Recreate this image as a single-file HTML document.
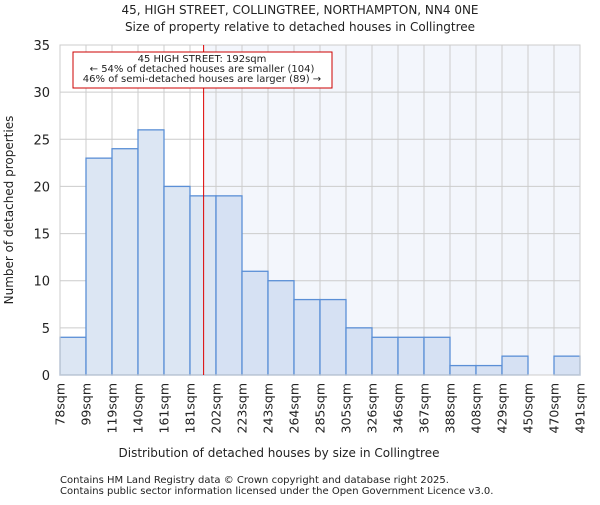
<!DOCTYPE html>
<html><head><meta charset="utf-8"><style>body{margin:0;background:#fff}svg text{font-family:"DejaVu Sans","Liberation Sans",sans-serif;fill:#222}</style></head>
<body>
<svg id="c" width="600" height="500" xmlns="http://www.w3.org/2000/svg">
<text x="300" y="14" text-anchor="middle" font-size="12">45, HIGH STREET, COLLINGTREE, NORTHAMPTON, NN4 0NE</text>
<text x="300" y="31" text-anchor="middle" font-size="12">Size of property relative to detached houses in Collingtree</text>
<g id="plot"></g>
<text x="279" y="457" text-anchor="middle" font-size="12">Distribution of detached houses by size in Collingtree</text>
<text transform="translate(13,210) rotate(-90)" text-anchor="middle" font-size="12">Number of detached properties</text>
<text x="60" y="483" font-size="10">Contains HM Land Registry data © Crown copyright and database right 2025.</text>
<text x="60" y="494" font-size="10">Contains public sector information licensed under the Open Government Licence v3.0.</text>
</svg>
<script>
const labels=["78sqm","99sqm","119sqm","140sqm","161sqm","181sqm","202sqm","223sqm","243sqm","264sqm","285sqm","305sqm","326sqm","346sqm","367sqm","388sqm","408sqm","429sqm","450sqm","470sqm","491sqm"];
const edges=[78,99,119,140,161,181,202,223,243,264,285,305,326,346,367,388,408,429,450,470,491];
const counts=[4,23,24,26,20,19,19,11,10,8,8,5,4,4,4,1,1,2,0,2];
const yTicks=[0,5,10,15,20,25,30,35];
const marker=192;
const L=60,R=580,T=45,B=375,yMax=35;
const bw=(R-L)/counts.length;
const y=v=>B-(v/yMax)*(B-T);
const xi=i=>L+i*bw;
function xv(v){for(let i=0;i<edges.length-1;i++){if(v<=edges[i+1])return xi(i)+(v-edges[i])/(edges[i+1]-edges[i])*bw;}return R;}
const g=document.getElementById('plot');const NS="http://www.w3.org/2000/svg";
function mk(t,a,p){const e=document.createElementNS(NS,t);for(const k in a)e.setAttribute(k,a[k]);(p||g).appendChild(e);return e;}
const mx=xv(marker);
let e=mk('rect',{x:mx,y:T,width:R-mx,height:B-T,fill:'#f3f6fc'});


yTicks.forEach(t=>{let l=mk('line',{x1:L,x2:R,y1:y(t),y2:y(t),stroke:'#cccccc'});


let tx=mk('text',{x:L-10,y:y(t)+5,'text-anchor':'end','font-size':13});tx.textContent=t;

});
labels.forEach((lb,i)=>{const x=xi(i);let l=mk('line',{x1:x,x2:x,y1:T,y2:B,stroke:'#cccccc'});


let tx=mk('text',{transform:`translate(${x+4.5},${B+8}) rotate(-90)`,'text-anchor':'end','font-size':12.5});tx.textContent=lb;

});
counts.forEach((c,i)=>{if(c<=0)return;const x=xi(i);let r=mk('rect',{x:x,y:y(c),width:bw,height:B-y(c),fill:x+bw/2<mx?'#dce6f3':'#d6e1f3',stroke:'#5b8fd6','stroke-width':1.3});

});
let ax=mk('rect',{x:L,y:T,width:R-L,height:B-T,fill:'none',stroke:'#cccccc'});


let ml=mk('line',{x1:mx,x2:mx,y1:T,y2:B,stroke:'#dd0000','stroke-width':1});


let bx=mk('rect',{x:73,y:52,width:259,height:36,fill:'#fff',stroke:'#cc0000'});


["45 HIGH STREET: 192sqm","← 54% of detached houses are smaller (104)","46% of semi-detached houses are larger (89) →"].forEach((s,i)=>{let t=mk('text',{x:202,y:62+i*10,'text-anchor':'middle','font-size':10});t.textContent=s;

});
</script>
</body></html>
